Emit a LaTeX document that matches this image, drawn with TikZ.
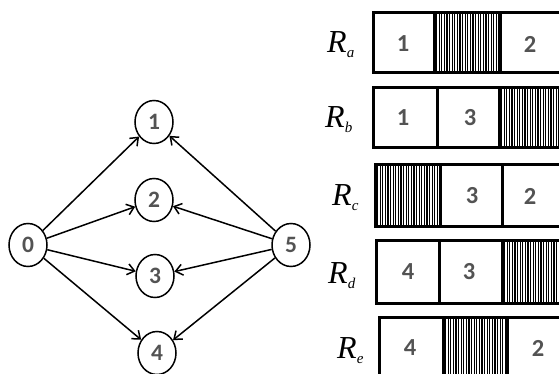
\documentclass[tikz,border=0pt]{standalone}
\usepackage{fontspec}
\setmainfont{Liberation Serif}
\newfontfamily\digitfont{Carlito}
\usetikzlibrary{shapes.geometric,arrows.meta}
\definecolor{digitgray}{HTML}{535353}
\newcommand{\digfont}{\digitfont\bfseries\fontsize{23.5}{27}\selectfont}
\newcommand{\celfont}{\digitfont\bfseries\fontsize{24.5}{28}\selectfont}
\newcommand{\rlabel}[1]{{\fontsize{32}{32}\selectfont\itshape R}\raisebox{-5pt}{\fontsize{15}{15}\selectfont\itshape #1}}
\newcommand{\hatchcell}[4]{%
  \begin{scope}
    \clip (#1,#2) rectangle (#3,#4);
    \foreach \i in {0,...,50} \draw[line width=1.1pt] ({#1+\i*2.6},#2) -- ({#1+\i*2.6},#4);
  \end{scope}}
\begin{document}
\begin{tikzpicture}[x=1pt,y=-1pt,
  vtx/.style={ellipse,draw,line width=1.5pt,minimum width=38pt,minimum height=43pt,inner sep=0pt,
    font=\digfont,text=digitgray},
  edge/.style={line width=1.5pt,-{Straight Barb[length=7pt,width=11pt,line width=1.5pt]}},
  cell/.style={inner sep=0pt,font=\celfont,text=digitgray},
  bar/.style={line width=3pt},
  rlab/.style={anchor=base west,inner sep=0pt}
]
\useasboundingbox (0,0) rectangle (559,374);
\clip (0,0) rectangle (559,374);

% graph
\node[vtx] (n0) at (28,245) {0};
\node[vtx] (n1) at (154,122) {1};
\node[vtx] (n2) at (154,200) {2};
\node[vtx] (n3) at (155,276) {3};
\node[vtx] (n4) at (157,353) {4};
\node[vtx] (n5) at (291,245) {5};
\foreach \t in {1,2,3,4} {
  \draw[edge] (n0) -- (n\t);
  \draw[edge] (n5) -- (n\t);
}

% R_a
\hatchcell{434}{13}{500}{73}
\draw[bar] (373,13) rectangle (620,73);
\draw[bar] (434,13) -- (434,73) (500,13) -- (500,73);
\node[cell] (a1) at (403,44) {1};
\node[cell] (a2) at (530,44) {2};
\node[rlab] (la) at (327,53) {\rlabel{a}};

% R_b
\hatchcell{499}{88}{620}{148}
\draw[bar] (373,88) rectangle (620,148);
\draw[bar] (437,88) -- (437,148) (499,88) -- (499,148);
\node[cell] (b1) at (403,118) {1};
\node[cell] (b3) at (470,118) {3};
\node[rlab] (lb) at (325,128) {\rlabel{b}};

% R_c
\hatchcell{375}{165}{440}{226}
\draw[bar] (375,165) rectangle (620,226);
\draw[bar] (440,165) -- (440,226) (502,165) -- (502,226);
\node[cell] (c3) at (472,196) {3};
\node[cell] (c2) at (530,196) {2};
\node[rlab] (lc) at (332,205) {\rlabel{c}};

% R_d
\hatchcell{502}{240}{620}{303}
\draw[bar] (376,240) rectangle (620,303);
\draw[bar] (439,240) -- (439,303) (502,240) -- (502,303);
\node[cell] (d4) at (408,272) {4};
\node[cell] (d3) at (469,272) {3};
\node[rlab] (ld) at (328,283) {\rlabel{d}};

% R_e
\hatchcell{443}{317}{507}{400}
\draw[bar] (379,317) rectangle (620,400);
\draw[bar] (443,317) -- (443,400) (507,317) -- (507,400);
\node[cell] (e4) at (410,348) {4};
\node[cell] (e2) at (538,348) {2};
\node[rlab] (le) at (337,358) {\rlabel{e}};
\end{tikzpicture}
\end{document}
